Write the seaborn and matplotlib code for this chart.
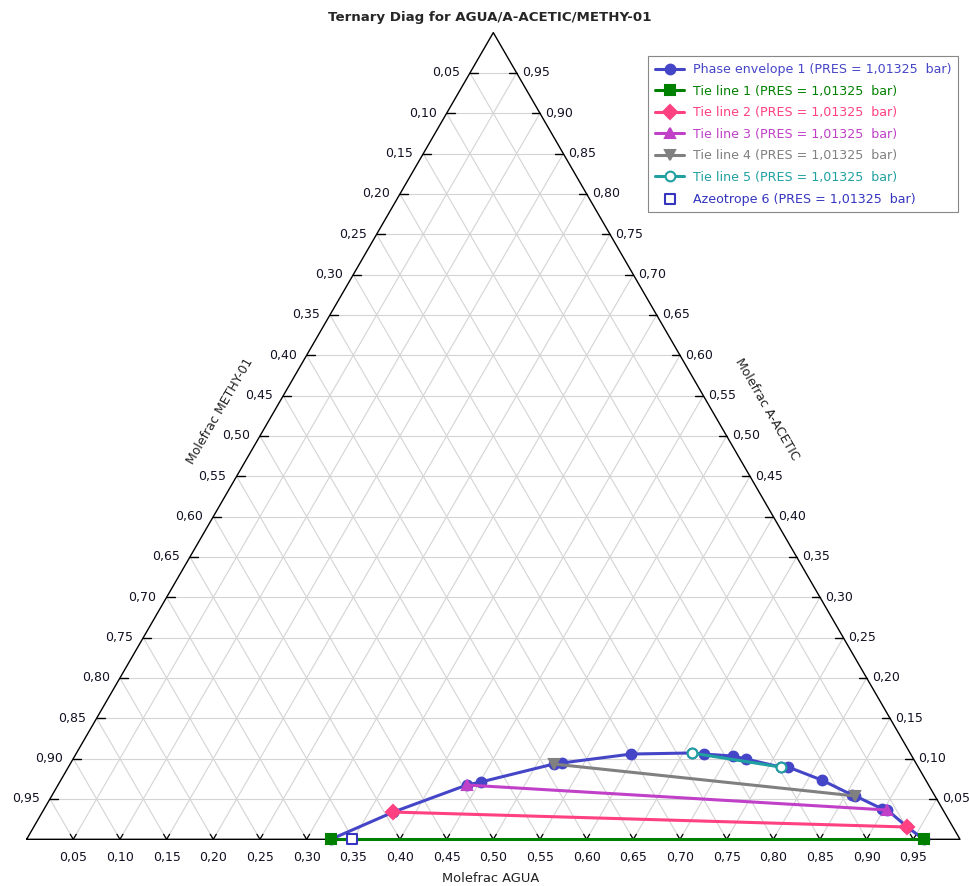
import numpy as np
import pandas as pd
import seaborn as sns
import matplotlib.pyplot as plt

# ternary composition data (AGUA, A-ACETIC); METHY-01 = 1 - AGUA - A-ACETIC
env_agua = [0.326, 0.376, 0.438, 0.451, 0.518, 0.526, 0.595, 0.659, 0.673, 0.705,
            0.721, 0.763, 0.771, 0.815, 0.857, 0.861, 0.898, 0.904, 0.936, 0.961]
env_acetic = [0.0, 0.0338, 0.0673, 0.0710, 0.0933, 0.0946, 0.1057, 0.1070, 0.1057, 0.1032,
              0.0995, 0.0896, 0.0896, 0.0735, 0.0549, 0.0537, 0.0376, 0.0363, 0.0152, 0.0]

tie1_agua = [0.326, 0.961]
tie1_acetic = [0.0, 0.0]
tie2_agua = [0.376, 0.936]
tie2_acetic = [0.0338, 0.0152]
tie3_agua = [0.438, 0.904]
tie3_acetic = [0.0673, 0.0363]
tie4_agua = [0.518, 0.861]
tie4_acetic = [0.0933, 0.0537]
tie5_agua = [0.659, 0.763]
tie5_acetic = [0.1070, 0.0896]

azeo_agua = [0.349]
azeo_acetic = [0.0]

tick_vals = [round(0.05 * i, 2) for i in range(1, 20)]
tick_labels = [f"{v:.2f}".replace(".", ",") for v in tick_vals]
pres_txt = "(PRES = 1,01325  bar)"


def tern(agua, acetic):
    agua = np.asarray(agua, dtype=float)
    acetic = np.asarray(acetic, dtype=float)
    return agua + acetic / 2, acetic


sns.set_style("white")
plt.rcParams['font.family'] = ['DejaVu Sans']

fig = plt.figure(figsize=(9.7, 8.86), dpi=100)
ax = fig.add_axes([0, 0, 1, 1])
ax.set_xlim(-26.6 / 933.4, (970 - 26.6) / 933.4)
ax.set_ylim(-(886 - 839.3) / 806.7, 839.3 / 806.7)
ax.axis("off")

# grid
grid_c = "#d4d4d4"
for v in tick_vals:
    x, y = tern([0, 1 - v], [v, v])
    ax.plot(x, y, color=grid_c, lw=0.8, zorder=1)
    x, y = tern([v, v], [0, 1 - v])
    ax.plot(x, y, color=grid_c, lw=0.8, zorder=1)
    x, y = tern([1 - v, 0], [0, 1 - v])
    ax.plot(x, y, color=grid_c, lw=0.8, zorder=1)

# triangle frame
x, y = tern([0, 1, 0, 0], [0, 0, 1, 0])
ax.plot(x, y, color="black", lw=1.0, zorder=2)

# ticks and labels
tl = 8 / 933.4
tc = "#111122"
for v, lab in zip(tick_vals, tick_labels):
    # bottom (AGUA)
    bx, by = tern(v, 0)
    ax.plot([bx - 3 / 933.4, bx, bx + 3 / 933.4], [5 / 806.7, 0, 5 / 806.7],
            color="black", lw=0.9, zorder=2)
    ax.text(bx, -18 / 806.7, lab, ha="center", va="center", fontsize=9, color=tc)
    # left (METHY-01)
    lx, ly = tern(0, 1 - v)
    ax.plot([lx, lx + tl], [ly, ly], color="black", lw=1.0, zorder=2)
    ax.text(lx - 10 / 933.4, ly, lab, ha="right", va="center", fontsize=9, color=tc)
    # right (A-ACETIC)
    rx, ry = tern(1 - v, v)
    ax.plot([rx - tl, rx], [ry, ry], color="black", lw=1.0, zorder=2)
    ax.text(rx + 5 / 933.4, ry, lab, ha="left", va="center", fontsize=9, color=tc)

# axis titles
fig.text(491 / 970, 1 - 878 / 886, "Molefrac AGUA", ha="center", va="center",
         fontsize=9.4, color="#222222")
fig.text(220 / 970, 1 - 411 / 886, "Molefrac METHY-01", ha="center", va="center",
         fontsize=9, rotation=60, color="#222222")
fig.text(767 / 970, 1 - 409 / 886, "Molefrac A-ACETIC", ha="center", va="center",
         fontsize=9, rotation=-60, color="#222222")
fig.text(490 / 970, 1 - 17 / 886, "Ternary Diag for AGUA/A-ACETIC/METHY-01",
         ha="center", va="center", fontsize=9.6, fontweight="bold")

# series
series = [
    ("Phase envelope 1", env_agua, env_acetic, "#4545c8", "o", "#4545c8", 7),
    ("Tie line 1", tie1_agua, tie1_acetic, "#008000", "s", "#008000", 7.5),
    ("Tie line 2", tie2_agua, tie2_acetic, "#ff4081", "D", "#ff4081", 7),
    ("Tie line 3", tie3_agua, tie3_acetic, "#c040c8", "^", "#c040c8", 7),
    ("Tie line 4", tie4_agua, tie4_acetic, "#808080", "v", "#808080", 7),
    ("Tie line 5", tie5_agua, tie5_acetic, "#20a0a0", "o", "white", 7),
]
for i, (name, ag, ac, col, mk, face, ms) in enumerate(series):
    x, y = tern(ag, ac)
    df = pd.DataFrame({"x": x, "y": y})
    sns.lineplot(data=df, x="x", y="y", sort=False, estimator=None, ax=ax,
                 color=col, lw=2.2, marker=mk, markersize=ms,
                 markerfacecolor=face, markeredgecolor=col, markeredgewidth=1.5,
                 label=f"{name} {pres_txt}", zorder=3 + i)

x, y = tern(azeo_agua, azeo_acetic)
sns.scatterplot(x=x, y=y, ax=ax, marker="s", s=50, facecolor="white",
                edgecolor="#3535c0", linewidth=1.5, label=f"Azeotrope 6 {pres_txt}",
                zorder=10)

leg = ax.legend(loc="upper right", bbox_to_anchor=(958 / 970, 1 - 56 / 886),
                bbox_transform=fig.transFigure, fontsize=9.1, frameon=True,
                fancybox=False, edgecolor="#888888", framealpha=1,
                handlelength=2.3, handletextpad=0.65, labelspacing=0.68,
                borderpad=0.55, borderaxespad=0, labelcolor="linecolor")
leg.get_frame().set_linewidth(0.8)
leg.get_texts()[-1].set_color("#3535c0")

fig.savefig("out.png", dpi=100)
